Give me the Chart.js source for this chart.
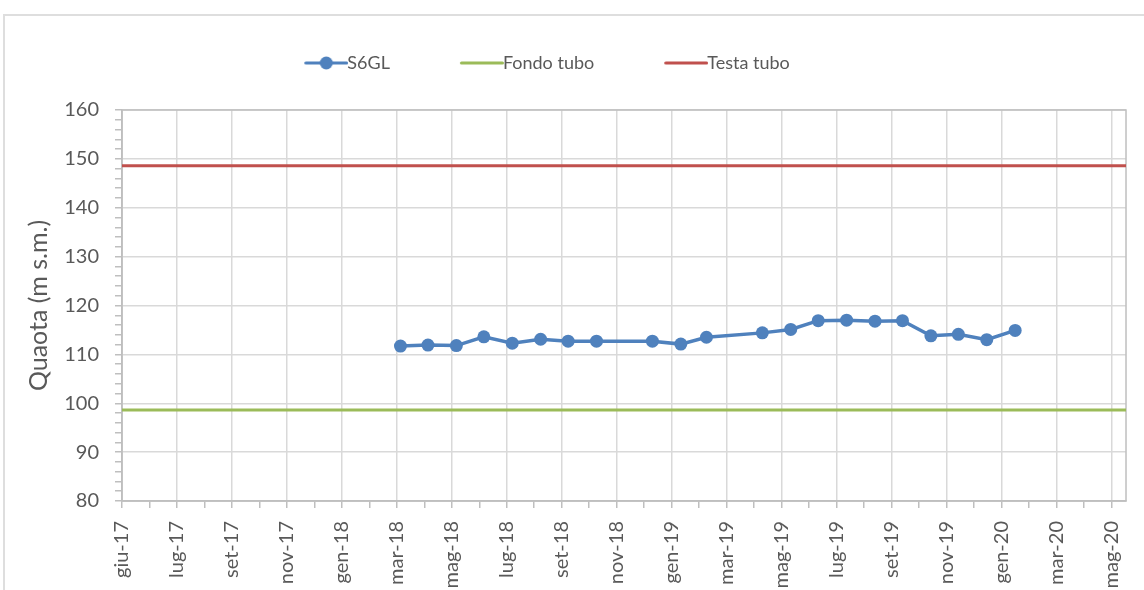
<!DOCTYPE html>
<html>
<head>
<meta charset="utf-8">
<script src="https://cdn.jsdelivr.net/npm/chart.js@4.4.0/dist/chart.umd.min.js"></script>
<style>
  html, body { margin: 0; padding: 0; background: #fff; }
  #wrap { position: relative; width: 1144px; height: 590px; overflow: hidden; }
  #frame { position: absolute; left: 3px; top: 14px; width: 1200px; height: 700px; border: 2px solid #dedede; box-sizing: border-box; pointer-events: none; }
</style>
</head>
<body>
<div id="wrap">
  <canvas id="livello" width="1144" height="590"></canvas>
  <div id="frame"></div>
</div>
<script>
// asse x: date, passo 60 giorni come nel foglio excel
const axisStart = '2017-06-01';
const axisEnd = '2020-06-01';
const monthNames = ['gen', 'feb', 'mar', 'apr', 'mag', 'giu', 'lug', 'ago', 'set', 'ott', 'nov', 'dic'];

// letture piezometro S6GL
const dates = ['2018-04-01', '2018-05-01', '2018-06-01', '2018-07-01', '2018-08-01', '2018-09-01',
  '2018-10-01', '2018-11-01', '2019-01-01', '2019-02-01', '2019-03-01', '2019-05-01', '2019-06-01',
  '2019-07-01', '2019-08-01', '2019-09-01', '2019-10-01', '2019-11-01', '2019-12-01', '2020-01-01',
  '2020-02-01'];
const s6gl = [111.7, 111.9, 111.8, 113.6, 112.3, 113.1, 112.7, 112.7, 112.7, 112.1, 113.5,
  114.4, 115.1, 116.9, 117.0, 116.8, 116.9, 113.8, 114.1, 113.0, 114.9];

const fondoTubo = 98.6;
const testaTubo = 148.6;
const yMin = 80;
const yMax = 160;

const DAY = 86400000;
const toUTC = (s) => { const p = s.split('-').map(Number); return Date.UTC(p[0], p[1] - 1, p[2]); };
const dayOf = (s) => Math.round((toUTC(s) - toUTC(axisStart)) / DAY);
const xMax = dayOf(axisEnd);

const tickLabel = (v) => {
  const d = new Date(toUTC(axisStart) + v * DAY);
  return monthNames[d.getUTCMonth()] + '-' + String(d.getUTCFullYear()).slice(2);
};

// icone legenda (linea + eventuale marker)
function legendIcon(color, marker) {
  const c = document.createElement('canvas');
  c.width = 84; c.height = 16;
  const g = c.getContext('2d');
  g.strokeStyle = color;
  g.lineWidth = 3;
  g.lineCap = 'round';
  g.beginPath(); g.moveTo(41.5, 8); g.lineTo(82.5, 8); g.stroke();
  if (marker) {
    g.fillStyle = color;
    g.beginPath(); g.arc(62, 8, 6.5, 0, Math.PI * 2); g.fill();
  }
  return c;
}
const legendIcons = [legendIcon('#4F81BD', true), legendIcon('#9BBB59', false), legendIcon('#C0504D', false)];

const layoutTweaks = {
  id: 'layoutTweaks',
  afterInit(chart) {
    const legend = chart.legend;
    const fit = legend.fit;
    legend.fit = function () { fit.call(this); this.height = 96; };
  },
  afterLayout(chart) {
    chart.legend.left -= 31;
    chart.legend.right -= 31;
  },
  beforeDatasetsDraw(chart) {
    const { ctx, chartArea: a } = chart;
    ctx.save();
    ctx.strokeStyle = '#bfbfbf';
    ctx.lineWidth = 1.5;
    ctx.strokeRect(a.left, a.top, a.right - a.left, a.bottom - a.top);
    ctx.restore();
  }
};

Chart.defaults.font.family = 'Lato';
Chart.defaults.color = '#595959';

const ctx = document.getElementById('livello').getContext('2d');
new Chart(ctx, {
  type: 'line',
  data: {
    datasets: [{
      label: 'S6GL',
      data: dates.map((d, i) => ({ x: dayOf(d), y: s6gl[i] })),
      borderColor: '#4F81BD',
      backgroundColor: '#4F81BD',
      borderWidth: 3.5,
      pointRadius: 6.5,
      pointHoverRadius: 6.5,
      pointBorderWidth: 0,
      tension: 0
    }, {
      label: 'Fondo tubo',
      data: [{ x: 0, y: fondoTubo }, { x: xMax, y: fondoTubo }],
      borderColor: '#9BBB59',
      backgroundColor: '#9BBB59',
      borderWidth: 3,
      pointRadius: 0
    }, {
      label: 'Testa tubo',
      data: [{ x: 0, y: testaTubo }, { x: xMax, y: testaTubo }],
      borderColor: '#C0504D',
      backgroundColor: '#C0504D',
      borderWidth: 3,
      pointRadius: 0
    }]
  },
  options: {
    responsive: false,
    animation: false,
    layout: { padding: { top: 14, right: 18, bottom: 0, left: 0 } },
    plugins: {
      tooltip: { enabled: false },
      legend: {
        position: 'top',
        labels: {
          usePointStyle: true,
          pointStyleWidth: 64,
          padding: 40,
          color: '#595959',
          font: { size: 18 },
          generateLabels: (chart) => Chart.defaults.plugins.legend.labels.generateLabels(chart)
            .map((item, i) => Object.assign(item, { pointStyle: legendIcons[i] }))
        }
      }
    },
    scales: {
      x: {
        type: 'linear',
        min: 0,
        max: xMax,
        afterBuildTicks: (scale) => {
          const t = [];
          for (let v = 0; v <= xMax; v += 30) t.push({ value: v });
          scale.ticks = t;
        },
        afterFit: (scale) => {
          scale.height = 89;
          scale.paddingLeft = 0;
          scale.paddingRight = 0;
        },
        ticks: {
          autoSkip: false,
          minRotation: 90,
          maxRotation: 90,
          padding: 13,
          font: { size: 20 },
          callback: (v) => (v % 60 === 0 ? tickLabel(v) : '')
        },
        grid: {
          color: (c) => (c.tick && c.tick.value % 60 === 0 ? '#d9d9d9' : 'rgba(0,0,0,0)'),
          lineWidth: 1.5,
          tickColor: '#bfbfbf',
          tickLength: 7
        },
        border: { color: '#bfbfbf', width: 1.5 }
      },
      y: {
        min: yMin,
        max: yMax,
        afterFit: (scale) => {
          scale.width = 122;
          scale.paddingTop = 0;
          scale.paddingBottom = 0;
        },
        ticks: {
          stepSize: 2,
          autoSkip: false,
          padding: 16,
          font: { size: 20 },
          callback: (v) => (v % 10 === 0 ? v : '')
        },
        grid: {
          color: (c) => (c.tick && c.tick.value % 10 === 0 ? '#d9d9d9' : 'rgba(0,0,0,0)'),
          lineWidth: 1.5,
          tickColor: '#bfbfbf',
          tickLength: 7
        },
        border: { color: '#bfbfbf', width: 1.5 },
        title: {
          display: true,
          text: 'Quaota (m s.m.)',
          font: { size: 25 },
          padding: { top: 24, bottom: 0 }
        }
      }
    }
  },
  plugins: [layoutTweaks]
});
</script>
</body>
</html>
